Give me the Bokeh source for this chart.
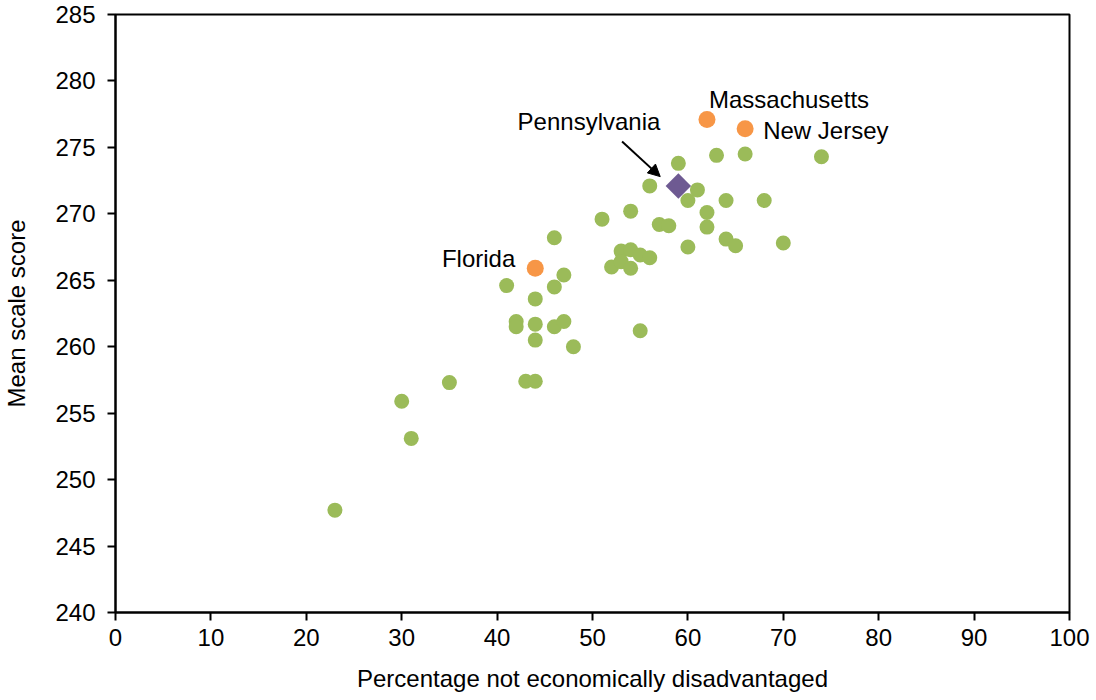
import numpy as np
from bokeh.plotting import figure
from bokeh.models import Range1d, Label, Arrow, NormalHead, FixedTicker
from bokeh.embed import file_html
from bokeh.resources import INLINE

# Percentage of students not economically disadvantaged vs. mean scale score, by state
other_pct = [23, 30, 31, 35, 43, 44, 41, 42, 42, 44, 44, 44, 46, 46, 46, 47, 47, 48,
             51, 52, 53, 53, 54, 54, 54, 55, 55, 56, 56, 57, 58, 59, 60, 60, 61, 62,
             62, 63, 64, 64, 65, 66, 68, 70, 74]
other_score = [247.7, 255.9, 253.1, 257.3, 257.4, 257.4, 264.6, 261.9, 261.5, 263.6,
               261.7, 260.5, 268.2, 264.5, 261.5, 265.4, 261.9, 260.0, 269.6, 266.0,
               267.2, 266.4, 267.3, 265.9, 270.2, 266.9, 261.2, 266.7, 272.1, 269.2,
               269.1, 273.8, 271.0, 267.5, 271.8, 270.1, 269.0, 274.4, 271.0, 268.1,
               267.6, 274.5, 271.0, 267.8, 274.3]

highlight_names = ["Massachusetts", "New Jersey", "Florida"]
highlight_pct = [62, 66, 44]
highlight_score = [277.1, 276.4, 265.9]

pa_name = "Pennsylvania"
pa_pct = 59
pa_score = 272.1

x_ticks = list(range(0, 101, 10))
y_ticks = list(range(240, 286, 5))

FONT = "Liberation Sans"
FONT_SIZE = "24px"
GREEN = "#9BBB59"
ORANGE = "#F79646"
PURPLE = "#6E5A92"

p = figure(width=1096, height=700, output_backend="svg", toolbar_location=None,
           x_range=Range1d(0, 100), y_range=Range1d(240, 285),
           min_border_left=115, min_border_right=27, min_border_top=14,
           min_border_bottom=88)

p.background_fill_color = "white"
p.border_fill_color = "white"
p.outline_line_color = "black"
p.outline_line_width = 2
p.grid.visible = False

for ax in (p.xaxis[0], p.yaxis[0]):
    ax.axis_line_width = 2
    ax.major_tick_line_width = 2
    ax.major_tick_in = 0
    ax.major_tick_out = 8
    ax.minor_tick_line_color = None
    ax.major_label_text_font = FONT
    ax.major_label_text_font_size = FONT_SIZE
    ax.major_label_text_color = "black"
    ax.axis_label_text_font = FONT
    ax.axis_label_text_font_size = FONT_SIZE
    ax.axis_label_text_font_style = "normal"
    ax.axis_label_text_color = "black"

p.xaxis.ticker = FixedTicker(ticks=x_ticks)
p.yaxis.ticker = FixedTicker(ticks=y_ticks)
p.xaxis.axis_label = "Percentage not economically disadvantaged"
p.yaxis.axis_label = "Mean scale score"
p.xaxis.major_label_standoff = 8
p.yaxis.major_label_standoff = 12
p.xaxis.axis_label_standoff = 16
p.yaxis.axis_label_standoff = 22

p.scatter(other_pct, other_score, size=15, color=GREEN, line_color=None)
p.scatter(highlight_pct, highlight_score, size=17, color=ORANGE, line_color=None)
p.scatter([pa_pct], [pa_score], marker="square", size=18, angle=np.pi / 4,
          color=PURPLE, line_color=None)

# state labels, placed relative to their markers in screen units
label_offsets = {
    "Massachusetts": (2, 20, "left"),
    "New Jersey": (18, -2, "left"),
    "Florida": (-20, 10, "right"),
}
for name, xv, yv in zip(highlight_names, highlight_pct, highlight_score):
    dx, dy, align = label_offsets[name]
    p.add_layout(Label(x=xv, y=yv, x_offset=dx, y_offset=dy, text=name,
                       text_align=align, text_baseline="middle",
                       text_font=FONT, text_font_size=FONT_SIZE, text_color="black"))

p.add_layout(Label(x=pa_pct, y=pa_score, x_offset=-18, y_offset=64, text=pa_name,
                   text_align="right", text_baseline="middle",
                   text_font=FONT, text_font_size=FONT_SIZE, text_color="black"))

p.add_layout(Arrow(end=NormalHead(size=12, fill_color="black", line_color="black"),
                   x_start=pa_pct - 5.9, y_start=pa_score + 3.35,
                   x_end=pa_pct - 1.9, y_end=pa_score + 0.7,
                   line_width=2, line_color="black"))

open("out.html", "w").write(file_html(p, INLINE))
